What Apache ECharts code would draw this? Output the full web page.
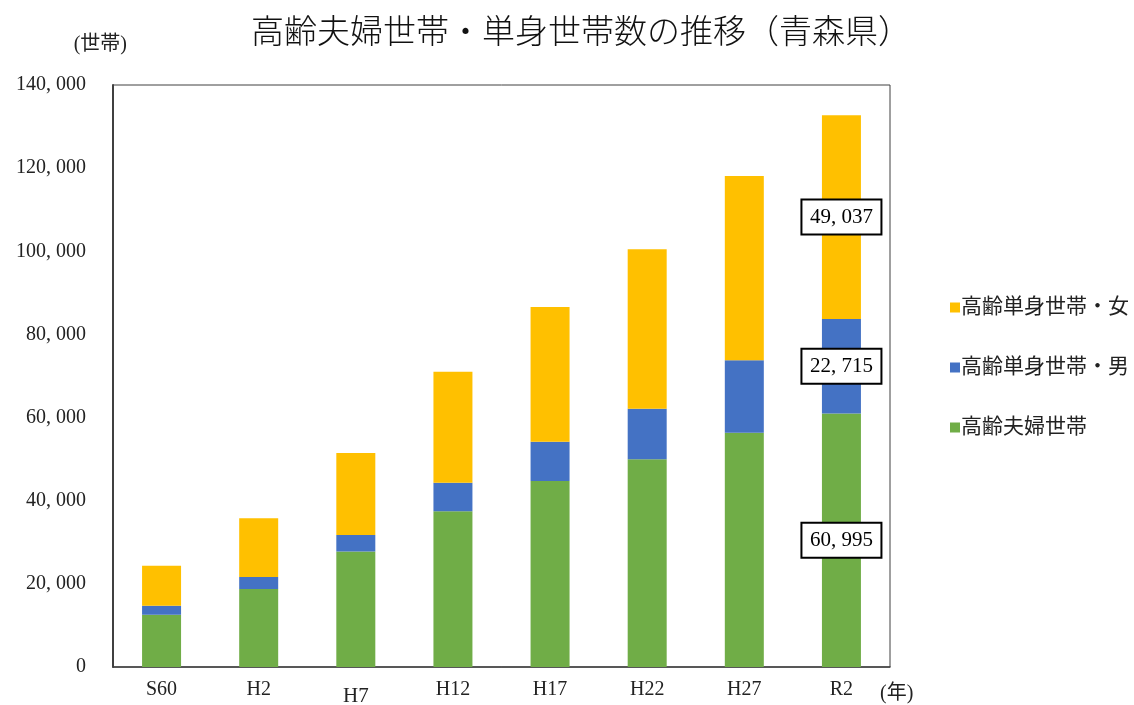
<!DOCTYPE html>
<html>
<head>
<meta charset="utf-8">
<script src="https://cdn.jsdelivr.net/npm/echarts@6/dist/echarts.min.js"></script>
<style>
  html, body { margin: 0; padding: 0; background: #fff; }
  #chart { width: 1134px; height: 705px; }
</style>
</head>
<body>
<div id="chart"></div>
<script>
// categories (years)
var years = ['S60', 'H2', 'H7', 'H12', 'H17', 'H22', 'H27', 'R2'];

// series values (households)
var fufu = [12560, 18740, 27770, 37470, 44750, 49960, 56350, 60995];
var tanshinMale = [2160, 2880, 4010, 6870, 9440, 12150, 17460, 22715];
var tanshinFemale = [9610, 14170, 19700, 26660, 32430, 38360, 44270, 49037];

var serif = '"Liberation Serif", "Noto Sans CJK JP", serif';
var fmt = function (v) {
  return String(v).replace(/\B(?=(\d{3})+(?!\d))/g, ', ');
};

var myChart = echarts.init(document.getElementById('chart'), null, { renderer: 'canvas' });

// label only on the last bar (R2)
function lastLabel(arr) {
  return arr.map(function (v, i) {
    if (i !== arr.length - 1) return v;
    return {
      value: v,
      label: {
        show: true,
        position: 'inside',
        formatter: function (p) { return fmt(p.value); },
        color: '#000',
        fontFamily: serif,
        fontSize: 21,
        backgroundColor: '#fff',
        borderColor: '#000',
        borderWidth: 2,
        width: 72,
        align: 'center',
        padding: [7, 3, 5, 3]
      }
    };
  });
}

var option = {
  animation: false,
  title: {
    text: '高齢夫婦世帯・単身世帯数の推移（青森県）',
    left: 246,
    top: 13,
    textStyle: { fontFamily: serif, fontSize: 33, fontWeight: 300, color: '#111' }
  },
  legend: {
    data: ['高齢単身世帯・女', '高齢単身世帯・男', '高齢夫婦世帯'],
    orient: 'vertical',
    left: 945,
    top: 292,
    itemWidth: 10,
    itemHeight: 10,
    itemGap: 39,
    icon: 'rect',
    textStyle: { fontFamily: serif, fontSize: 21, color: '#222', padding: [0, 0, 0, -4] }
  },
  grid: {
    left: 113,
    right: 244,
    top: 85,
    bottom: 38,
    containLabel: false,
    outerBoundsMode: 'none',
    show: true,
    borderColor: '#404040',
    borderWidth: 1
  },
  xAxis: {
    type: 'category',
    data: years,
    axisLine: { lineStyle: { color: '#404040', width: 1.5 } },
    axisTick: { show: false },
    axisLabel: {
      interval: 0,
      fontFamily: serif, fontSize: 20, color: '#222', margin: 13,
      formatter: function (v) { return v === 'H7' ? '{low|' + v + '}' : v; },
      rich: { low: { fontFamily: serif, fontSize: 21, color: '#222', padding: [6, 0, 0, 0] } }
    },
    name: '(年)',
    nameLocation: 'end',
    nameGap: -10,
    nameTextStyle: { fontFamily: serif, fontSize: 20, color: '#222', align: 'left', verticalAlign: 'top', padding: [17, 0, 0, 0] }
  },
  yAxis: {
    type: 'value',
    min: 0,
    max: 140000,
    interval: 20000,
    axisLine: { show: true, lineStyle: { color: '#404040', width: 2 } },
    axisTick: { show: false },
    splitLine: { show: false },
    axisLabel: { fontFamily: serif, fontSize: 20, color: '#222', margin: 27, formatter: fmt },
    name: '(世帯)',
    nameLocation: 'end',
    nameGap: 30,
    nameTextStyle: { fontFamily: serif, fontSize: 20, color: '#222', align: 'right', padding: [0, -14, 0, 0] }
  },
  series: [
    {
      name: '高齢夫婦世帯',
      type: 'bar',
      stack: 'total',
      barWidth: 39,
      itemStyle: { color: '#70AD47' },
      data: lastLabel(fufu)
    },
    {
      name: '高齢単身世帯・男',
      type: 'bar',
      stack: 'total',
      barWidth: 39,
      itemStyle: { color: '#4472C4' },
      data: lastLabel(tanshinMale)
    },
    {
      name: '高齢単身世帯・女',
      type: 'bar',
      stack: 'total',
      barWidth: 39,
      itemStyle: { color: '#FFC000' },
      data: lastLabel(tanshinFemale)
    }
  ]
};

myChart.setOption(option);
</script>
</body>
</html>
